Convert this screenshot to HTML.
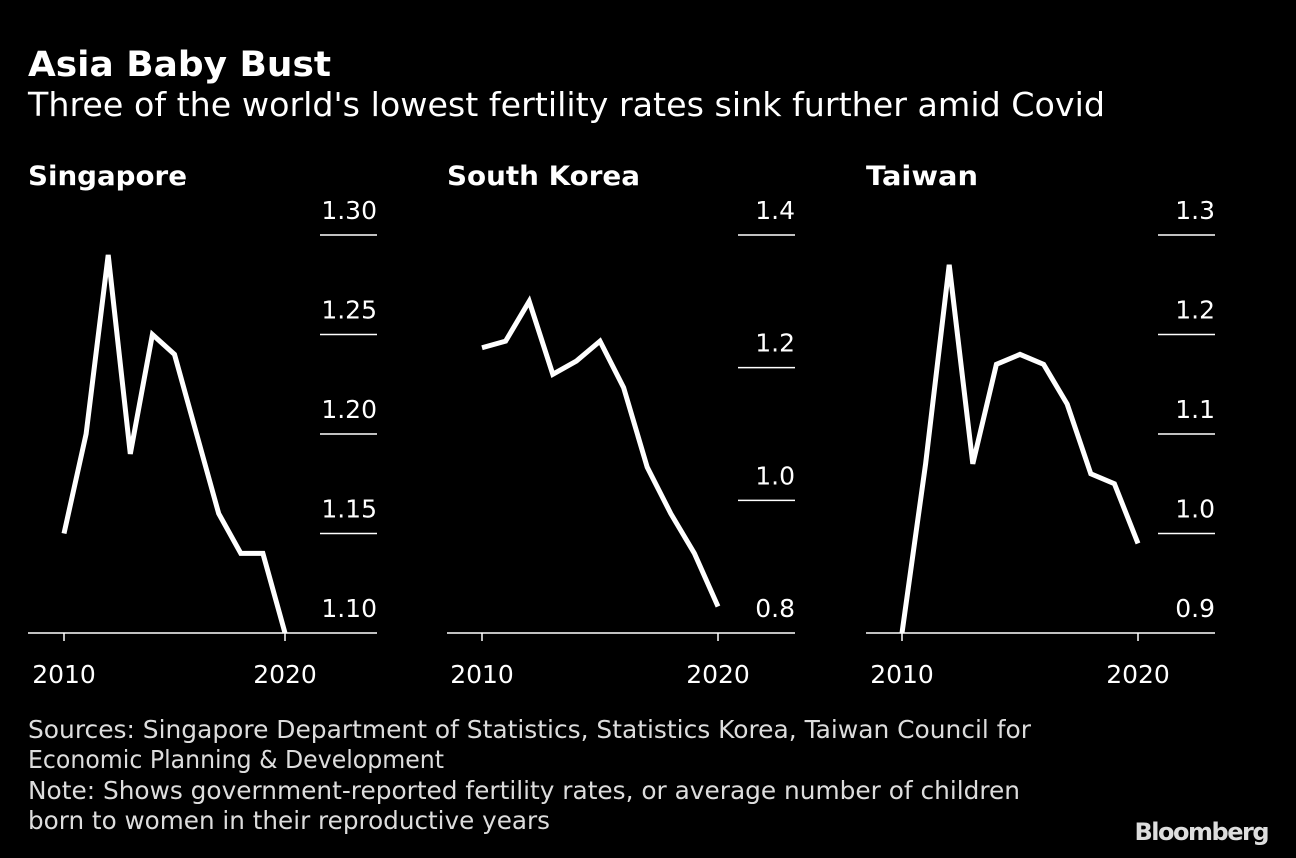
<!DOCTYPE html>
<html><head><meta charset="utf-8"><style>
body{margin:0;background:#000;width:1296px;height:858px;overflow:hidden;font-family:"DejaVu Sans","Liberation Sans",sans-serif;color:#fff}
svg{position:absolute;left:0;top:0}
</style></head><body>
<svg width="1296" height="858">
<text x="28" y="76" font-size="35" font-weight="bold" fill="#fff" textLength="303" lengthAdjust="spacingAndGlyphs">Asia Baby Bust</text>
<text x="28" y="116" font-size="33" fill="#fff" textLength="1077" lengthAdjust="spacingAndGlyphs">Three of the world's lowest fertility rates sink further amid Covid</text>
<g id="panels"></g>
<g fill="#ddd" font-size="24.5">
<text x="28" y="738" textLength="1003" lengthAdjust="spacingAndGlyphs">Sources: Singapore Department of Statistics, Statistics Korea, Taiwan Council for</text>
<text x="28" y="768" textLength="416" lengthAdjust="spacingAndGlyphs">Economic Planning &amp; Development</text>
<text x="28" y="799" textLength="992" lengthAdjust="spacingAndGlyphs">Note: Shows government-reported fertility rates, or average number of children</text>
<text x="28" y="829" textLength="522" lengthAdjust="spacingAndGlyphs">born to women in their reproductive years</text>
</g>
<text x="1268" y="840" text-anchor="end" font-size="24" font-weight="bold" fill="#ddd" letter-spacing="-1.5">Bloomberg</text>
</svg>
<script>
const years=[2010,2011,2012,2013,2014,2015,2016,2017,2018,2019,2020];
const sgValues=[1.15,1.20,1.29,1.19,1.25,1.24,1.20,1.16,1.14,1.14,1.10];
const krValues=[1.23,1.24,1.30,1.19,1.21,1.24,1.17,1.05,0.98,0.92,0.84];
const twValues=[0.90,1.07,1.27,1.07,1.17,1.18,1.17,1.13,1.06,1.05,0.99];
const sgTicks=[1.10,1.15,1.20,1.25,1.30];
const krTicks=[0.8,1.0,1.2,1.4];
const twTicks=[0.9,1.0,1.1,1.2,1.3];
const xTicks=[2010,2020];
const panels=[
 {name:'singapore',title:'Singapore',tw:159,left:28,x0:64,x1:285,right:377,vals:sgValues,ticks:sgTicks,dec:2},
 {name:'south-korea',title:'South Korea',tw:193,left:447,x0:482,x1:718,right:795,vals:krValues,ticks:krTicks,dec:1},
 {name:'taiwan',title:'Taiwan',tw:112,left:866,x0:902,x1:1138,right:1215,vals:twValues,ticks:twTicks,dec:1}
];
const NS='http://www.w3.org/2000/svg';
const root=document.getElementById('panels');
function mk(tag,attrs,parent){const e=document.createElementNS(NS,tag);for(const k in attrs)e.setAttribute(k,attrs[k]);parent.appendChild(e);return e;}
panels.forEach(p=>{
 const g=mk('g',{},root);
 
 
 const yTop=235,yBot=633;
 const tmin=p.ticks[0],tmax=p.ticks[p.ticks.length-1];
 const ys=v=>yBot-(v-tmin)/(tmax-tmin)*(yBot-yTop);
 const xs=yr=>p.x0+(yr-2010)/10*(p.x1-p.x0);
 const t=mk('text',{x:p.left,y:185,'font-size':27,'font-weight':'bold',fill:'#fff',textLength:p.tw,lengthAdjust:'spacingAndGlyphs'},g);
 t.textContent=p.title;
 
 
 p.ticks.forEach(v=>{
  const y=ys(v);
  if(v!==tmin){const l=mk('line',{x1:p.right-57,x2:p.right,y1:y,y2:y,stroke:'#fff','stroke-width':1.5},g);
   
   }
  const lb=mk('text',{x:p.right,y:y-16,'text-anchor':'end','font-size':25,fill:'#fff'},g);
  lb.textContent=v.toFixed(p.dec);
  
  
 });
 const base=mk('line',{x1:p.left,x2:p.right,y1:yBot,y2:yBot,stroke:'#fff','stroke-width':1.5},g);
 
 
 xTicks.forEach(yr=>{
  const tk=mk('line',{x1:xs(yr),x2:xs(yr),y1:yBot,y2:yBot+8,stroke:'#fff','stroke-width':1.5},g);
  
  
  const lb=mk('text',{x:xs(yr),y:683,'text-anchor':'middle','font-size':25,fill:'#fff'},g);
  lb.textContent=yr;
  
  
 });
 const pts=p.vals.map((v,i)=>xs(years[i])+','+ys(v)).join(' ');
 const pl=mk('polyline',{points:pts,fill:'none',stroke:'#fff','stroke-width':5,'stroke-linejoin':'miter'},g);
 
 
});
</script>
</body></html>
